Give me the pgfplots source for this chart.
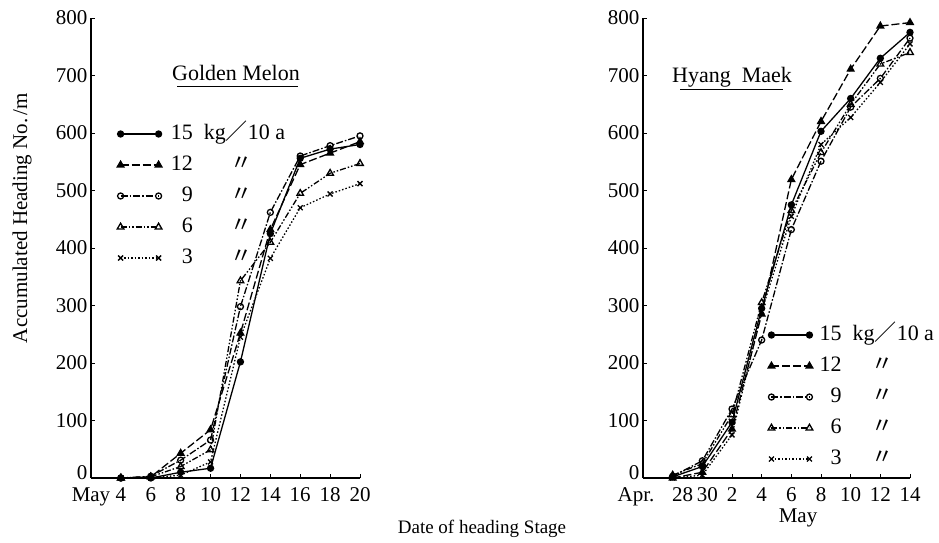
\documentclass[border=0pt]{standalone}
\usepackage{pgfplots}
\pgfplotsset{compat=1.18}
\usepackage{fontspec}
\setmainfont{Liberation Serif}
\newfontfamily\cjk{Noto Sans CJK JP}

\pgfplotsset{
 myaxis/.style={
  scale only axis, width=269pt, height=460pt,
  ymin=0, ymax=800, ytick={0,100,...,800},
  yticklabels={{\raisebox{5pt}[\height][\depth]{0}},100,200,300,400,500,600,700,800},
  axis lines=left, axis line style={-, line width=1.3pt},
  tick align=inside, major tick length=4pt, tick style={black, line width=0.9pt},
  tick label style={font=\fontsize{21}{23}\selectfont},
  xticklabel style={yshift=-6pt},
  /pgf/number format/assume math mode=true,
  clip=false,
  legend image code/.code={\draw[##1] plot coordinates {(0pt,0pt)(38pt,0pt)};},
  legend style={draw=none, fill=none, inner sep=0pt, font=\fontsize{22}{24}\selectfont,
     nodes={inner sep=1pt, text height=14pt, text depth=4pt}, cells={anchor=west}, row sep=11pt},
 },
 s15/.style={black, line width=1.3pt, solid, mark=*, mark size=3pt, mark options={solid}},
 s12/.style={black, line width=1.3pt, dash pattern=on 8pt off 3pt, mark=triangle*, mark size=3.8pt, mark options={solid}},
 s9/.style={black, line width=1.3pt, dash pattern=on 7pt off 2pt on 1.5pt off 2pt, mark=o, mark size=3pt, mark options={solid, fill=white}},
 s6/.style={black, line width=1.3pt, dash pattern=on 6pt off 2pt on 1.5pt off 2pt on 1.5pt off 2pt, mark=triangle, mark size=3.8pt, mark options={solid, fill=white}},
 s3/.style={black, line width=1.3pt, dash pattern=on 1.5pt off 2pt, mark=x, mark size=3.5pt, mark options={solid}},
}

\begin{document}
\begin{tikzpicture}[x=1pt,y=1pt]
\path[use as bounding box] (0,0) rectangle (939,542);

\begin{axis}[myaxis, at={(91pt,64pt)}, anchor=south west,
  xmin=2, xmax=20, xtick={2,4,...,20}, xticklabels={May,4,6,8,10,12,14,16,18,20},
  legend style={at={(0.097,0.77)}, anchor=north west}]
\addplot[s15] coordinates {(4,0)(6,0)(8,10)(10,17)(12,202)(14,425)(16,556)(18,572)(20,580)};
\addlegendentry{\hspace{8pt}15\ \ kg{\cjk ／}10\ a}
\addplot[s12] coordinates {(4,0)(6,2)(8,43)(10,84)(12,252)(14,432)(16,545)(18,565)(20,585)};
\addlegendentry{\hspace{8pt}\makebox[22pt][r]{12}\hspace{38pt}{\cjk 〃}}
\addplot[s9] coordinates {(4,0)(6,3)(8,31)(10,66)(12,298)(14,462)(16,560)(18,578)(20,595)};
\addlegendentry{\hspace{8pt}\makebox[22pt][r]{9}\hspace{38pt}{\cjk 〃}}
\addplot[s6] coordinates {(4,0)(6,2)(8,20)(10,49)(12,343)(14,410)(16,495)(18,530)(20,547)};
\addlegendentry{\hspace{8pt}\makebox[22pt][r]{6}\hspace{38pt}{\cjk 〃}}
\addplot[s3] coordinates {(4,0)(6,0)(8,5)(10,28)(12,245)(14,382)(16,470)(18,494)(20,512)};
\addlegendentry{\hspace{8pt}\makebox[22pt][r]{3}\hspace{38pt}{\cjk 〃}}
\end{axis}

\begin{axis}[myaxis, at={(643pt,64pt)}, anchor=south west, width=267pt,
  xmin=-4, xmax=14, xtick={-4,-2,0,2,4,6,8,10,12,14},
  xticklabels={{\makebox[0pt][c]{Apr.\hspace{14pt}}},{\makebox[0pt][c]{\hspace{20pt}28}},{\makebox[0pt][c]{\hspace{10pt}30}},2,4,6,8,10,12,14},
  legend style={at={(0.468,0.333)}, anchor=north west, row sep=11pt}]
\addplot[s15] coordinates {(-2,2)(0,20)(2,97)(4,295)(6,475)(8,603)(10,660)(12,730)(14,775)};
\addlegendentry{\hspace{6pt}15\ \ kg{\cjk ／}10\ a}
\addplot[s12] coordinates {(-2,0)(0,10)(2,85)(4,285)(6,519)(8,620)(10,711)(12,786)(14,792)};
\addlegendentry{\hspace{6pt}\makebox[22pt][r]{12}\hspace{30pt}{\cjk 〃}}
\addplot[s9] coordinates {(-2,3)(0,30)(2,120)(4,240)(6,432)(8,551)(10,645)(12,695)(14,765)};
\addlegendentry{\hspace{6pt}\makebox[22pt][r]{9}\hspace{30pt}{\cjk 〃}}
\addplot[s6] coordinates {(-2,5)(0,25)(2,110)(4,305)(6,465)(8,566)(10,650)(12,720)(14,740)};
\addlegendentry{\hspace{6pt}\makebox[22pt][r]{6}\hspace{30pt}{\cjk 〃}}
\addplot[s3] coordinates {(-2,0)(0,5)(2,75)(4,290)(6,455)(8,580)(10,627)(12,688)(14,755)};
\addlegendentry{\hspace{6pt}\makebox[22pt][r]{3}\hspace{30pt}{\cjk 〃}}
\end{axis}

\node[rotate=90, font=\fontsize{21}{23}\selectfont] at (22,324) {Accumulated Heading No.\,/m};
\node[font=\fontsize{19}{21}\selectfont] at (482,13) {Date of heading Stage};
\node[font=\fontsize{21}{23}\selectfont] at (798,24) {May};
\node[font=\fontsize{22}{24}\selectfont] at (236,469) {Golden Melon};
\draw[line width=1pt] (177,455) -- (298,455);
\node[font=\fontsize{22}{24}\selectfont] at (732,465) {Hyang\ \ Maek};
\draw[line width=1pt] (680,452) -- (783,452);
\end{tikzpicture}
\end{document}
